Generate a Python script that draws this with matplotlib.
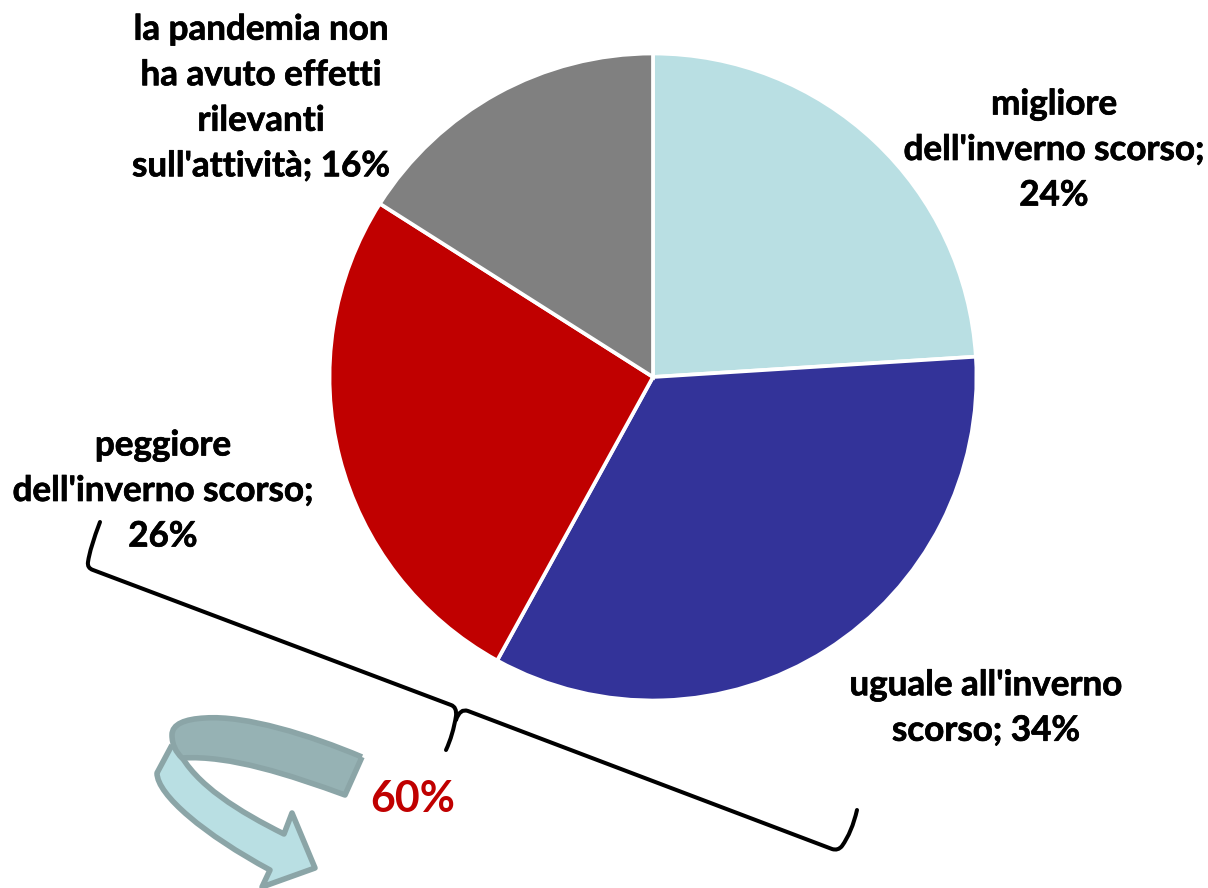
import matplotlib
matplotlib.use("Agg")
import matplotlib.pyplot as plt
from matplotlib.patches import PathPatch
from matplotlib.path import Path
import matplotlib.patheffects as pe

W, H = 1208, 888
FONT = ["Lato", "DejaVu Sans"]

categories = ["migliore\ndell'inverno scorso;", "uguale all'inverno\nscorso;",
              "peggiore\ndell'inverno scorso;",
              "la pandemia non\nha avuto effetti\nrilevanti\nsull'attività;"]
values = [24, 34, 26, 16]
colors = ["#B9DFE3", "#333399", "#C00000", "#808080"]
label_xy = [(1054, 150), (986, 708), (163, 491), (261, 98)]
label_breaks = ["\n", " ", "\n", " "]

fig = plt.figure(figsize=(W / 100, H / 100), dpi=100, facecolor="white")
ax = fig.add_axes([0, 0, 1, 1])

# The y axis points down here, so a counter-clockwise pie in axes terms reads clockwise on screen.
ax.pie(values, colors=colors, center=(653, 377), radius=323.5, startangle=-90,
       counterclock=True, wedgeprops=dict(edgecolor="white", linewidth=2.7), frame=True)
ax.set_xlim(0, W)
ax.set_ylim(H, 0)
ax.set_aspect("equal")
ax.axis("off")

# A hairline stroke thickens the bold face a little
heavier = [pe.withStroke(linewidth=0.5, foreground="black")]
for cat, val, (x, y), sep in zip(categories, values, label_xy, label_breaks):
    ax.text(x, y, f"{cat}{sep}{val}%", ha="center", va="center", family=FONT,
            fontweight="bold", fontsize=25.2, linespacing=1.52, color="black",
            path_effects=heavier)

ax.text(413, 799, "60%", ha="center", va="center", family=FONT,
        fontweight="bold", fontsize=31, color="#C00000")


def build_path(steps):
    """Turn (code, point, ...) steps into a Path."""
    verts, codes = [], []
    for code, *pts in steps:
        verts.extend(pts)
        codes.extend([code] * len(pts))
    return Path(verts, codes)


M, L, C3, C4 = Path.MOVETO, Path.LINETO, Path.CURVE3, Path.CURVE4

# Curly bracket gathering the two lower shares
brace = build_path([
    (M, (100, 522)),
    (C3, (90, 548), (88, 562)),
    (C3, (87, 568), (93, 570)),
    (L, (451, 705)),
    (C3, (457, 707), (456, 716)),
    (C3, (453, 735), (446, 750)),
    (M, (456, 720)),
    (C3, (460, 708), (468, 711)),
    (L, (832, 849)),
    (C3, (838, 851), (842, 846)),
    (C3, (852, 832), (857, 810)),
])
ax.add_patch(PathPatch(brace, fill=False, edgecolor="black", linewidth=2.9,
                       capstyle="round", joinstyle="round"))

# Curved ribbon arrow below the pie
EDGE = "#8BA5A7"
lower = build_path([
    (M, (172, 745)),
    (L, (157, 773)),
    (C4, (157, 795), (205, 835), (270, 870)),
    (L, (262, 887), (315, 868), (292, 813), (284, 834)),
    (C4, (240, 812), (195, 785), (178, 750)),
    (L, (172, 745)),
])
ax.add_patch(PathPatch(lower, facecolor="#B9DFE3", edgecolor=EDGE, linewidth=4, joinstyle="round"))
upper = build_path([
    (M, (362, 757)),
    (C4, (310, 735), (245, 715), (205, 718)),
    (C4, (185, 719), (172, 724), (172, 735)),
    (C4, (172, 745), (176, 752), (182, 758)),
    (C4, (230, 755), (290, 775), (345, 795)),
    (L, (362, 757)),
])
ax.add_patch(PathPatch(upper, facecolor="#96B2B4", edgecolor=EDGE, linewidth=4, joinstyle="round"))

fig.savefig("out.png", dpi=100, facecolor="white")
